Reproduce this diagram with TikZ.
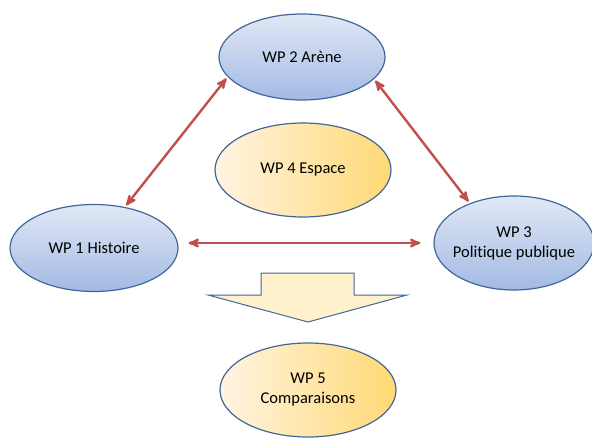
\documentclass[tikz,border=0pt]{standalone}
\usepackage{fontspec}
\setmainfont[Ligatures=NoCommon]{Carlito}
\usepackage{tikz}
\usetikzlibrary{positioning}
\usetikzlibrary{arrows,shapes}
\definecolor{wpborder}{HTML}{41679A}
\definecolor{wpblueA}{HTML}{E1E8F5}
\definecolor{wpblueB}{HTML}{A3BAE4}
\definecolor{wpyelA}{HTML}{FFF4E2}
\definecolor{wpyelB}{HTML}{FFD975}
\definecolor{linkred}{HTML}{C0504D}
\definecolor{flowfill}{HTML}{FFF1CC}
\tikzset{wpblue/.style={ellipse,draw=wpborder,line width=1.2pt,top color=wpblueA,bottom color=wpblueB,
  align=center,font=\fontsize{16.5}{20}\selectfont,inner sep=0pt}}
\tikzset{wpyellow/.style={ellipse,draw=wpborder,line width=1.2pt,left color=wpyelA,right color=wpyelB,
  align=center,font=\fontsize{16.5}{20}\selectfont,inner sep=0pt}}
\tikzset{link/.style={<->,>=stealth',draw=linkred,line width=2.4pt}}

\begin{document}
\begin{tikzpicture}[x=1pt,y=-1pt]
\useasboundingbox (0,0) rectangle (592,437);
\node[wpblue,minimum width=166pt,minimum height=86pt] (wp2) at (302,57) {WP 2 Arène};
\node[wpblue,minimum width=168pt,minimum height=87pt] (wp1) at (94,248) {WP 1 Histoire};
\node[wpblue,inner xsep=-14pt,minimum width=160pt,minimum height=94pt] (wp3) at (514,243) {WP 3\\Politique publique};
\node[wpyellow,minimum width=176pt,minimum height=94pt] (wp4) at (303,170) {WP 4 Espace};
\node[wpyellow,minimum width=176pt,minimum height=94pt] (wp5) at (308,390) {WP 5\\Comparaisons};
% liens entre les WP
\draw[link,shorten <=2pt,shorten >=2pt] (wp2.195) -- (wp1.53);
\draw[link,shorten <=2pt,shorten >=2pt] (wp2.343) -- (wp3.138);
\draw[link,shorten <=10pt,shorten >=13pt] (wp1.east |- wp3.west) -- (wp3.west);
% fleche vers WP 5
\draw[draw=wpborder,fill=flowfill,line width=1pt]
  (261,273) -- (354,273) -- (354,295) -- (407,295) -- (308,322) -- (208,295) -- (261,295) -- cycle;
\end{tikzpicture}
\end{document}
